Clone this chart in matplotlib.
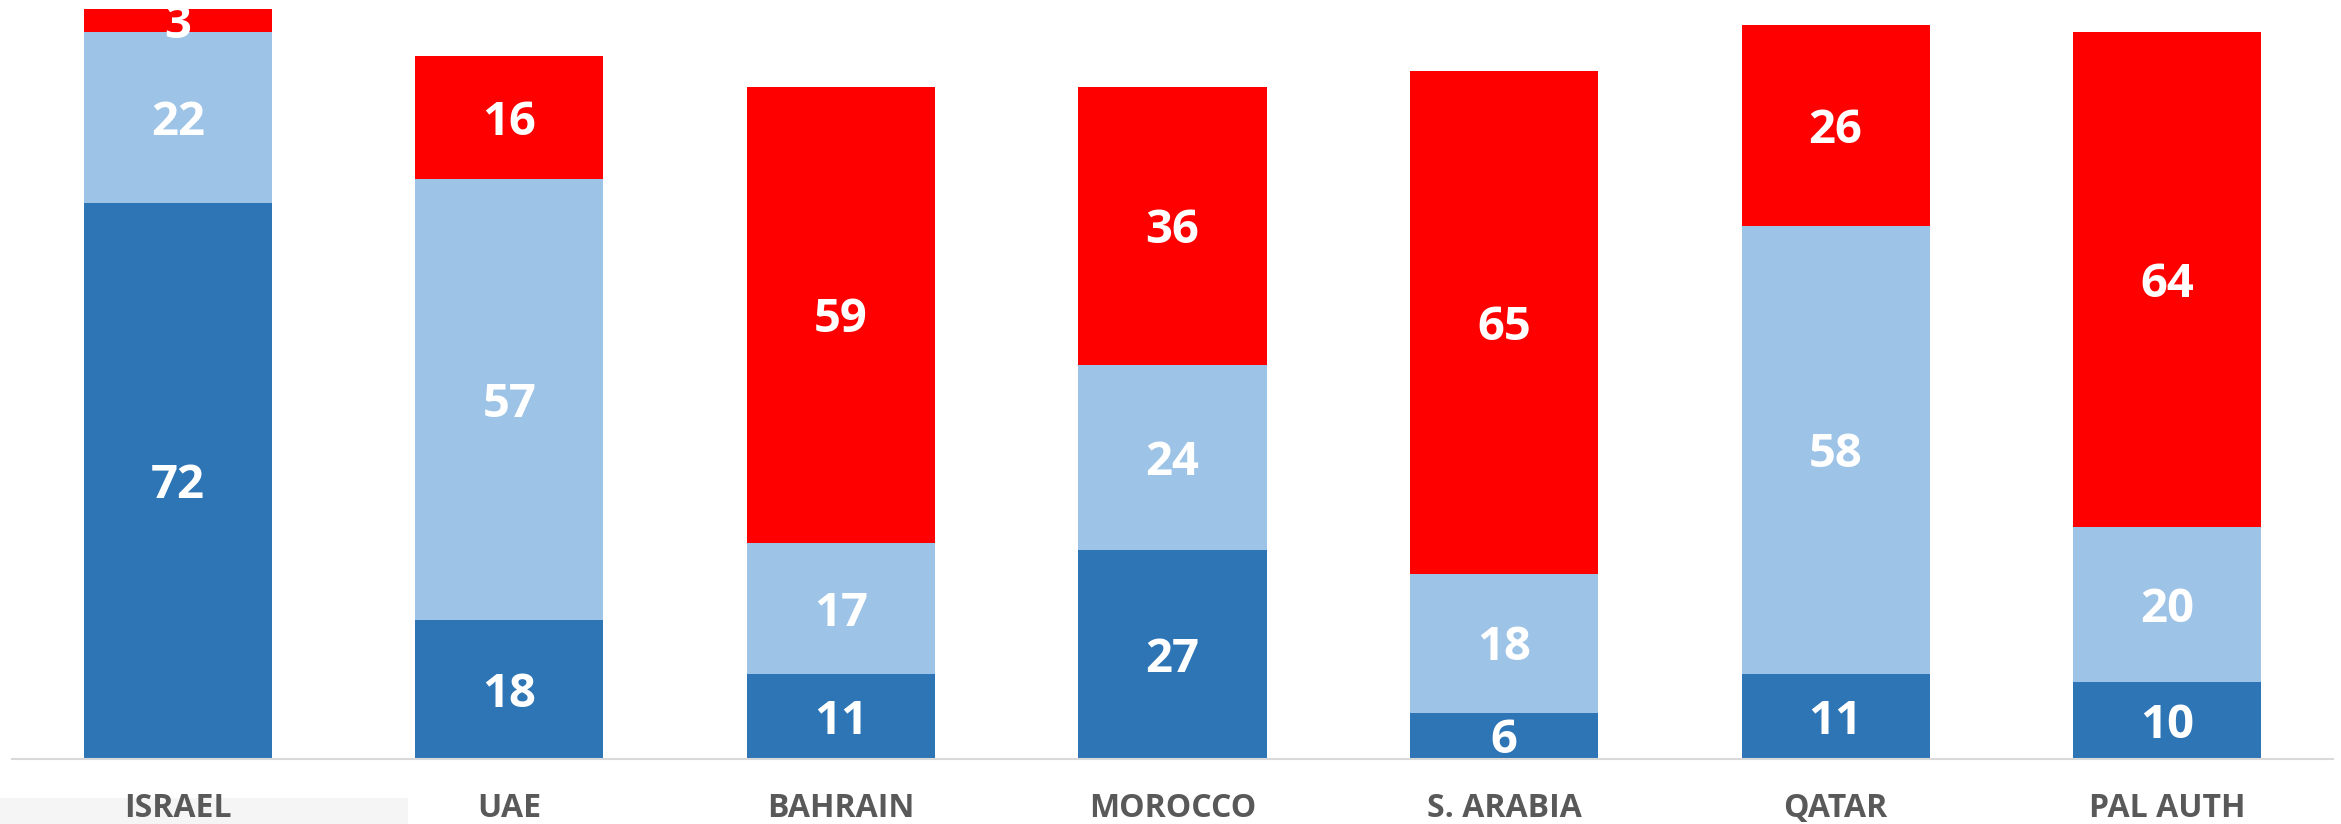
import matplotlib
matplotlib.use("Agg")
import matplotlib.pyplot as plt
from matplotlib.patches import Rectangle
import numpy as np

countries = ["ISRAEL", "UAE", "BAHRAIN", "MOROCCO", "S. ARABIA", "QATAR", "PAL AUTH"]
favorable = [72, 18, 11, 27, 6, 11, 10]
neutral = [22, 57, 17, 24, 18, 58, 20]
unfavorable = [3, 16, 59, 36, 65, 26, 64]

dark_blue = "#2E75B6"
light_blue = "#9DC3E6"
red = "#FF0000"

plt.rcParams["font.family"] = ["Open Sans", "DejaVu Sans"]

fig = plt.figure(figsize=(23.41, 8.24), dpi=100)
ax = fig.add_axes([12 / 2341, 65 / 824, (2333 - 12) / 2341, 759 / 824])

x = np.arange(len(countries))
w = 0.567
bottoms = np.zeros(len(countries))
for vals, col in [(favorable, dark_blue), (neutral, light_blue), (unfavorable, red)]:
    vals = np.array(vals)
    ax.bar(x, vals, w, bottom=bottoms, color=col, linewidth=0)
    for xi, b, v in zip(x, bottoms, vals):
        ax.annotate(str(v), (xi, b + v / 2), xytext=(0, -3.5), textcoords="offset points",
                    ha="center", va="center", color="white",
                    fontsize=34, fontweight="bold")
    bottoms = bottoms + vals

ax.set_xlim(-0.5, 6.5)
ax.set_ylim(0, 98.2)
ax.set_yticks([])
ax.set_xticks(x)
ax.set_xticklabels(countries, fontsize=23, fontweight="bold", color="#595959")
ax.tick_params(axis="x", length=0, pad=24)
for s in ["top", "left", "right"]:
    ax.spines[s].set_visible(False)
ax.spines["bottom"].set_color("#d9d9d9")
ax.spines["bottom"].set_linewidth(1.5)

# light strip behind the first category label
fig.patches.append(Rectangle((0, 0), 408 / 2341, 26 / 824, transform=fig.transFigure,
                             facecolor="#f5f5f5", edgecolor="none", zorder=-1))

fig.savefig("out.png", dpi=100)
